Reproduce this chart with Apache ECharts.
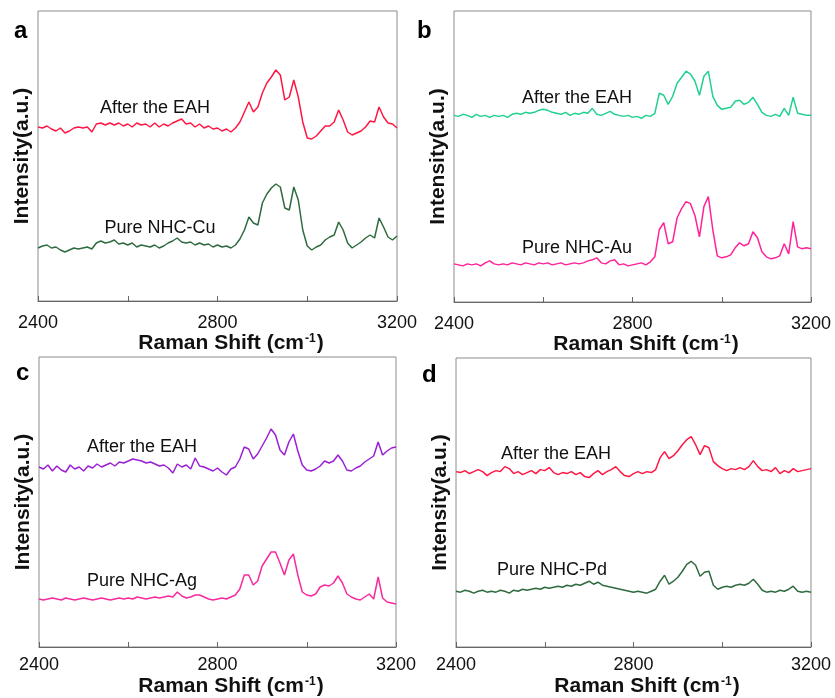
<!DOCTYPE html>
<html>
<head>
<meta charset="utf-8">
<script src="https://cdn.jsdelivr.net/npm/echarts@6/dist/echarts.min.js"></script>
<style>
html,body{margin:0;padding:0;background:#fff;}
#chart{width:835px;height:698px;}
</style>
</head>
<body>
<div id="chart"></div>
<script>
// Raman shift grid (cm-1)
const ramanShift = [2400,2410,2420,2430,2440,2450,2460,2470,2480,2490,2500,2510,2520,2530,2540,2550,2560,2570,2580,2590,2600,2610,2620,2630,2640,2650,2660,2670,2680,2690,2700,2710,2720,2730,2740,2750,2760,2770,2780,2790,2800,2810,2820,2830,2840,2850,2860,2870,2880,2890,2900,2910,2920,2930,2940,2950,2960,2970,2980,2990,3000,3010,3020,3030,3040,3050,3060,3070,3080,3090,3100,3110,3120,3130,3140,3150,3160,3170,3180,3190,3200];
const xTickLabels = [2400, 2800, 3200];

// Panel a (Cu)
const aAfterEAH = [174,173,175,172,170,173,168,170,173,174,173,174,169,177,178,176,178,176,178,175,177,174,178,176,177,174,178,174,177,175,178,180,182,177,178,174,177,173,175,172,173,170,172,169,173,179,189,199,189,194,208,218,224,231,226,201,204,221,204,179,163,162,165,170,175,175,179,191,181,169,166,168,170,174,180,179,194,184,178,177,173];
const aPureCu = [53,55,56,53,54,51,49,51,53,52,53,54,52,58,60,58,59,61,57,58,56,58,54,56,55,54,56,53,55,58,60,63,59,58,59,56,58,56,57,54,56,54,55,53,56,62,71,84,78,76,98,107,113,117,114,93,91,114,101,71,55,51,54,56,61,64,66,79,71,58,53,56,59,63,66,63,83,74,64,61,65];

// Panel b (Au)
const bAfterEAH = [186,185,187,186,184,187,185,186,184,186,185,186,184,187,188,187,189,188,189,191,192,191,189,188,187,189,186,188,187,189,188,193,187,186,188,190,187,186,185,186,184,185,183,186,185,188,208,206,197,205,218,224,230,227,220,206,225,230,205,196,192,193,194,200,201,197,199,204,197,189,186,185,187,185,193,186,204,188,187,186,186];
const bPureAu = [38,37,36,38,37,38,36,39,41,38,37,38,37,39,38,37,39,38,37,39,38,39,37,38,39,37,38,39,38,39,41,42,44,39,38,41,42,37,38,36,37,38,39,37,40,45,72,79,58,60,84,93,100,98,86,65,95,105,72,46,44,45,47,54,59,56,58,70,64,50,45,43,44,46,58,48,80,55,53,54,53];

// Panel c (Ag)
const cAfterEAH = [180,178,182,176,181,177,175,182,178,180,176,181,179,183,180,182,184,181,185,184,186,188,187,186,184,185,183,181,182,179,174,183,180,182,178,189,181,180,178,176,179,175,172,178,180,188,200,198,188,193,201,209,218,212,197,192,205,213,196,182,177,176,178,181,186,184,186,192,186,177,176,179,181,185,188,191,205,192,196,199,200];
const cPureAg = [48,47,48,49,48,47,49,48,47,48,49,48,47,48,49,48,47,48,49,48,49,48,50,49,48,49,50,49,50,51,50,55,51,49,50,52,52,50,48,47,48,49,48,50,52,58,72,72,62,66,81,88,95,95,84,72,87,93,72,55,52,51,53,60,62,61,64,71,64,53,50,48,47,50,53,48,70,49,45,44,43];

// Panel d (Pd)
const dAfterEAH = [176,175,177,174,176,178,176,172,175,177,176,181,179,174,176,173,175,177,174,178,177,180,175,173,175,174,176,173,175,171,170,174,177,173,176,178,181,176,172,171,174,176,174,176,175,178,190,196,189,192,197,203,208,211,203,193,202,200,186,182,179,177,179,178,180,178,181,187,181,177,178,176,180,174,177,175,179,176,177,178,179];
const dPurePd = [56,55,57,56,54,56,57,55,56,55,57,56,54,57,56,58,57,58,59,58,60,59,60,61,60,62,61,63,62,64,66,63,65,62,61,60,59,58,57,56,55,56,55,54,56,58,66,72,63,66,70,76,83,86,82,71,75,76,62,58,60,61,60,62,63,62,64,68,63,57,55,56,55,57,56,58,61,56,55,56,55];

const panelLetters = ['a','b','c','d'];
const curveNames = [
  ['After the EAH','Pure NHC-Cu'],
  ['After the EAH','Pure NHC-Au'],
  ['After the EAH','Pure NHC-Ag'],
  ['After the EAH','Pure NHC-Pd']
];
const panelData = [[aAfterEAH,aPureCu],[bAfterEAH,bPureAu],[cAfterEAH,cPureAg],[dAfterEAH,dPurePd]];
const panelColors = [['#ff1744','#2f6b3f'],['#22d08f','#ff2299'],['#9b1fd4','#f72a9e'],['#ff1744','#2f6b3f']];

// layout
const grids = [
  {left:38, top:11, width:359, height:290},
  {left:454, top:11, width:357, height:291},
  {left:39, top:357, width:357, height:290},
  {left:456, top:358, width:355, height:289}
];
const labelMargins = [13, 13, 9, 9];
const nameGaps = [32, 32, 29, 29];
const letterPos = [[14,31],[417,31],[16,373],[422,375]];
const labelPos = [
  [[155,108],[160,228]],
  [[577,98],[577,248]],
  [[142,447],[142,581]],
  [[556,454],[552,570]]
];

const FONT = 'Liberation Sans, Arial, Helvetica, sans-serif';

const xAxes = grids.map((g,i)=>({
  type:'value', gridIndex:i, min:2400, max:3200, interval:200,
  axisLine:{show:true, lineStyle:{color:'#666', width:1}},
  axisTick:{show:true, inside:true, length:5, lineStyle:{color:'#666'}},
  splitLine:{show:false},
  axisLabel:{show:true, fontSize:18, color:'#111', fontFamily:FONT, margin:labelMargins[i],
    formatter:(v)=> xTickLabels.indexOf(v) >= 0 ? String(v) : ''},
  name:'Raman Shift (cm{sup|-1})',
  nameLocation:'middle', nameGap:nameGaps[i],
  nameTextStyle:{fontSize:21, fontWeight:'bold', color:'#111', fontFamily:FONT, padding:[0,0,0,27],
    rich:{sup:{fontSize:12, fontWeight:'bold', color:'#111', fontFamily:FONT, verticalAlign:'top', padding:[0,1,0,1]}}}
}));
const yAxes = grids.map((g,i)=>({
  type:'value', gridIndex:i, min:0, max:290,
  axisLine:{show:false}, axisTick:{show:false}, axisLabel:{show:false}, splitLine:{show:false},
  name:'Intensity(a.u.)', nameLocation:'middle', nameRotate:90, nameGap:5,
  nameTextStyle:{fontSize:21, fontWeight:'bold', color:'#111', fontFamily:FONT}
}));

const series = [];
panelData.forEach((pair,i)=>{
  pair.forEach((vals,j)=>{
    series.push({
      type:'line', name:curveNames[i][j], xAxisIndex:i, yAxisIndex:i,
      showSymbol:false, symbol:'none', animation:false,
      lineStyle:{color:panelColors[i][j], width:1.5},
      data: ramanShift.map((x,k)=>[x, vals[k]])
    });
  });
});

const graphics = [];
panelLetters.forEach((l,i)=>{
  graphics.push({type:'text', x:letterPos[i][0], y:letterPos[i][1],
    style:{text:l, fontSize:24, fontWeight:'bold', fontFamily:FONT, fill:'#000', textVerticalAlign:'middle', verticalAlign:'middle'}});
  curveNames[i].forEach((n,j)=>{
    graphics.push({type:'text', x:labelPos[i][j][0], y:labelPos[i][j][1],
      style:{text:n, fontSize:18, fontFamily:FONT, fill:'#111', textAlign:'center', align:'center', textVerticalAlign:'middle', verticalAlign:'middle'}});
  });
});

const chart = echarts.init(document.getElementById('chart'), null, {renderer:'canvas'});
chart.setOption({
  backgroundColor:'#fff',
  animation:false,
  grid: grids.map(g=>Object.assign({show:true, borderColor:'#8c8c8c', borderWidth:1, backgroundColor:'transparent'}, g)),
  xAxis:xAxes,
  yAxis:yAxes,
  series:series,
  graphic:graphics
});
</script>
</body>
</html>
